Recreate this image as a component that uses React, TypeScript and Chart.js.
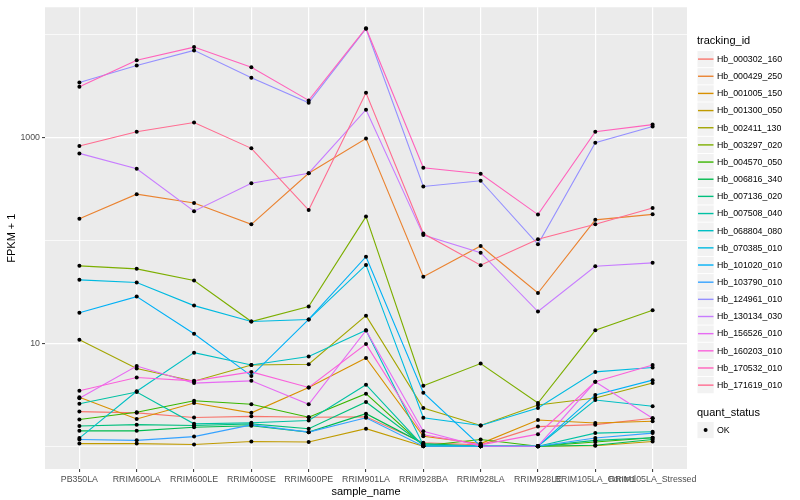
import React, { useEffect, useRef } from "react";
import { Chart, registerables } from "chart.js";

Chart.register(...registerables);

const FONT = "'Liberation Sans', Arial, Helvetica, sans-serif";

const categories = [
  "PB350LA", "RRIM600LA", "RRIM600LE", "RRIM600SE", "RRIM600PE", "RRIM901LA",
  "RRIM928BA", "RRIM928LA", "RRIM928LE", "RRIM105LA_Control", "RRIM105LA_Stressed",
];

const trackingIds = [
  "Hb_000302_160", "Hb_000429_250", "Hb_001005_150", "Hb_001300_050", "Hb_002411_130",
  "Hb_003297_020", "Hb_004570_050", "Hb_006816_340", "Hb_007136_020", "Hb_007508_040",
  "Hb_068804_080", "Hb_070385_010", "Hb_101020_010", "Hb_103790_010", "Hb_124961_010",
  "Hb_130134_030", "Hb_156526_010", "Hb_160203_010", "Hb_170532_010", "Hb_171619_010",
];

const palette = [
  "#F8766D", "#EA8331", "#D89000", "#C09B00", "#A3A500", "#7CAE00", "#39B600", "#00BB4E",
  "#00BF7D", "#00C1A3", "#00BFC4", "#00BAE0", "#00B0F6", "#35A2FF", "#9590FF", "#C77CFF",
  "#E76BF3", "#FA62DB", "#FF62BC", "#FF6C91",
];

// FPKM + 1 per sample, in category order
const hb000302_160 = [2.17, 2.11, 1.9, 1.95, 1.91, 1.93, 1.08, 1.03, 1.55, 1.62, 1.87];
const hb000429_250 = [163, 283, 232, 144, 452, 984, 44.4, 88.5, 30.9, 159, 180];
const hb001005_150 = [2.99, 1.84, 2.63, 2.11, 3.73, 7.21, 1.25, 1.06, 1.8, 1.68, 1.75];
const hb001300_050 = [1.06, 1.06, 1.04, 1.11, 1.1, 1.48, 1, 1, 1, 1.01, 1.11];
const hb002411_130 = [10.86, 5.69, 4.29, 6.17, 6.27, 18.6, 2.35, 1.59, 2.52, 2.94, 4.11];
const hb003297_020 = [56.8, 53.1, 40.9, 16.3, 22.8, 171, 3.87, 6.37, 2.63, 13.4, 21.0];
const hb004570_050 = [1.82, 2.14, 2.77, 2.56, 1.91, 3.24, 1.01, 1.16, 1, 1.1, 1.21];
const hb006816_340 = [1.41, 1.41, 1.53, 1.58, 1.37, 2.07, 1.06, 1, 1, 1.02, 1.16];
const hb007136_020 = [1.57, 1.62, 1.59, 1.65, 1.48, 2.69, 1.03, 1, 1, 1.14, 1.21];
const hb007508_040 = [2.59, 3.36, 1.65, 1.69, 1.78, 3.96, 1, 1, 1, 1.34, 1.38];
const hb068804_080 = [1.2, 3.42, 8.13, 6.17, 7.44, 13.4, 1.03, 1, 1, 2.81, 2.45];
const hb070385_010 = [41.5, 39.1, 23.3, 16.3, 17.1, 58.0, 1.89, 1.59, 2.35, 5.28, 5.82];
const hb101020_010 = [19.9, 28.5, 12.4, 4.83, 17.1, 69.7, 3.31, 1, 1, 3.15, 4.39];
const hb103790_010 = [1.16, 1.14, 1.24, 1.61, 1.37, 1.89, 1, 1, 1, 1.2, 1.34];
const hb124961_010 = [3450, 5040, 7080, 3830, 2190, 11500, 336, 382, 92, 895, 1285];
const hb130134_030 = [705, 499, 193, 361, 452, 1875, 113, 76.2, 20.4, 56.3, 60.7];
const hb156526_010 = [2.92, 6.03, 4.11, 4.32, 2.56, 13.35, 1.4, 1, 1, 4.23, 1.87];
const hb160203_010 = [3.46, 4.66, 4.32, 5.28, 3.73, 9.84, 1.29, 1.03, 1.31, 4.23, 6.17];
const hb170532_010 = [3130, 5680, 7620, 4850, 2310, 11640, 510, 446, 179, 1143, 1343];
const hb171619_010 = [831, 1143, 1406, 789, 198, 2740, 117, 57.6, 103, 144, 207];

const seriesValues = [
  hb000302_160, hb000429_250, hb001005_150, hb001300_050, hb002411_130,
  hb003297_020, hb004570_050, hb006816_340, hb007136_020, hb007508_040,
  hb068804_080, hb070385_010, hb101020_010, hb103790_010, hb124961_010,
  hb130134_030, hb156526_010, hb160203_010, hb170532_010, hb171619_010,
];

const yTickValues = [1, 10, 100, 1000, 10000];
const yMajorTicks = [10, 1000];
const quantStatus = ["OK"];

export default function App() {
  const canvasRef = useRef<HTMLCanvasElement | null>(null);

  useEffect(() => {
    document.body.style.margin = "0";
    const canvas = canvasRef.current;
    if (!canvas) return;

    const all = seriesValues.flat();
    const lmin = Math.log10(Math.min(...all));
    const lmax = Math.log10(Math.max(...all));
    const pad = (lmax - lmin) * 0.05;

    const lineSets = seriesValues.map((vals, i) => ({
      type: "line" as const,
      label: trackingIds[i],
      data: vals.map((v, j) => ({ x: j, y: v })),
      borderColor: palette[i],
      backgroundColor: palette[i],
      borderWidth: 1.1,
      pointRadius: 0,
      fill: false,
      tension: 0,
      order: 100 - i,
    }));
    const pointSets = seriesValues.map((vals, i) => ({
      type: "line" as const,
      label: trackingIds[i] + " pts",
      data: vals.map((v, j) => ({ x: j, y: v })),
      showLine: false,
      pointRadius: 2,
      pointBorderWidth: 0,
      pointBackgroundColor: "#000000",
      borderColor: "#000000",
      order: 0,
    }));

    const bgPlugin = {
      id: "panelBg",
      beforeDraw(chart: any) {
        const { ctx, chartArea } = chart;
        ctx.save();
        ctx.fillStyle = "#EBEBEB";
        ctx.fillRect(chartArea.left, chartArea.top, chartArea.right - chartArea.left, chartArea.bottom - chartArea.top);
        ctx.restore();
      },
    };

    const legendPlugin = {
      id: "ggLegend",
      afterDraw(chart: any) {
        const ctx = chart.ctx;
        const x0 = 697;
        ctx.save();
        ctx.textAlign = "left";
        ctx.fillStyle = "#000000";
        ctx.font = `11px ${FONT}`;
        ctx.textBaseline = "alphabetic";
        ctx.fillText("tracking_id", x0, 44);
        const step = 17.16;
        trackingIds.forEach((id, i) => {
          const cy = 59 + i * step;
          ctx.fillStyle = "#F2F2F2";
          ctx.fillRect(x0 + 0.5, cy - 8, 16.2, 16.2);
          ctx.strokeStyle = palette[i];
          ctx.lineWidth = 1.4;
          ctx.beginPath();
          ctx.moveTo(x0 + 1, cy + 0.1);
          ctx.lineTo(x0 + 16.5, cy + 0.1);
          ctx.stroke();
          ctx.fillStyle = "#000000";
          ctx.font = `8.8px ${FONT}`;
          ctx.textBaseline = "middle";
          ctx.fillText(id, 717, cy + 0.5);
        });
        ctx.font = `11px ${FONT}`;
        ctx.textBaseline = "alphabetic";
        ctx.fillText("quant_status", x0, 416);
        quantStatus.forEach((q, i) => {
          const cy = 430 + i * step;
          ctx.fillStyle = "#F2F2F2";
          ctx.fillRect(x0 + 0.5, cy - 8, 16.2, 16.2);
          ctx.fillStyle = "#000000";
          ctx.beginPath();
          ctx.arc(x0 + 8.6, cy + 0.1, 2, 0, Math.PI * 2);
          ctx.fill();
          ctx.font = `8.8px ${FONT}`;
          ctx.textBaseline = "middle";
          ctx.fillText(q, 717, cy + 0.5);
        });
        ctx.restore();
      },
    };

    const chart = new Chart(canvas, {
      type: "line",
      data: { datasets: [...lineSets, ...pointSets] as any },
      plugins: [bgPlugin, legendPlugin],
      options: {
        animation: false,
        responsive: false,
        maintainAspectRatio: false,
        layout: { padding: { left: 0, right: 113, top: 5, bottom: 0 } },
        plugins: { legend: { display: false }, tooltip: { enabled: false } },
        scales: {
          x: {
            type: "linear",
            min: -0.6,
            max: categories.length - 1 + 0.6,
            afterBuildTicks: (scale: any) => {
              scale.ticks = categories.map((_, i) => ({ value: i }));
            },
            afterFit: (scale: any) => {
              scale.height = 31;
            },
            border: { display: false },
            grid: {
              color: "#FFFFFF",
              lineWidth: 1.2,
              drawTicks: true,
              tickLength: 3,
              tickColor: "#333333",
              tickWidth: 1,
            },
            ticks: {
              autoSkip: false,
              maxRotation: 0,
              minRotation: 0,
              padding: 2,
              color: "#4D4D4D",
              font: { family: FONT, size: 8.8 },
              callback: (v: any) => categories[v as number] ?? "",
            },
            title: {
              display: true,
              text: "sample_name",
              color: "#000000",
              font: { family: FONT, size: 11 },
              padding: { top: 0, bottom: 1.5 },
            },
          },
          y: {
            type: "logarithmic",
            min: Math.pow(10, lmin - pad),
            max: Math.pow(10, lmax + pad),
            afterBuildTicks: (scale: any) => {
              scale.ticks = yTickValues.map((v) => ({ value: v }));
            },
            afterFit: (scale: any) => {
              scale.width = 45;
            },
            border: { display: false },
            grid: {
              color: "#FFFFFF",
              lineWidth: (c: any) => (yMajorTicks.includes(c.tick?.value) ? 1.2 : 0.7),
              drawTicks: true,
              tickLength: 3,
              tickColor: (c: any) => (yMajorTicks.includes(c.tick?.value) ? "#333333" : "rgba(0,0,0,0)"),
              tickWidth: 1,
            },
            ticks: {
              autoSkip: false,
              padding: 2,
              color: "#4D4D4D",
              font: { family: FONT, size: 8.8 },
              callback: (v: any) => (yMajorTicks.includes(v as number) ? String(v) : ""),
            },
            title: {
              display: true,
              text: "FPKM + 1",
              color: "#000000",
              font: { family: FONT, size: 11 },
              padding: { top: 5, bottom: 0 },
            },
          },
        },
      } as any,
    });

    return () => chart.destroy();
  }, []);

  return (
    <div style={{ position: "absolute", left: 0, top: 0, width: 800, height: 500 }}>
      <canvas ref={canvasRef} width={800} height={500} />
    </div>
  );
}
